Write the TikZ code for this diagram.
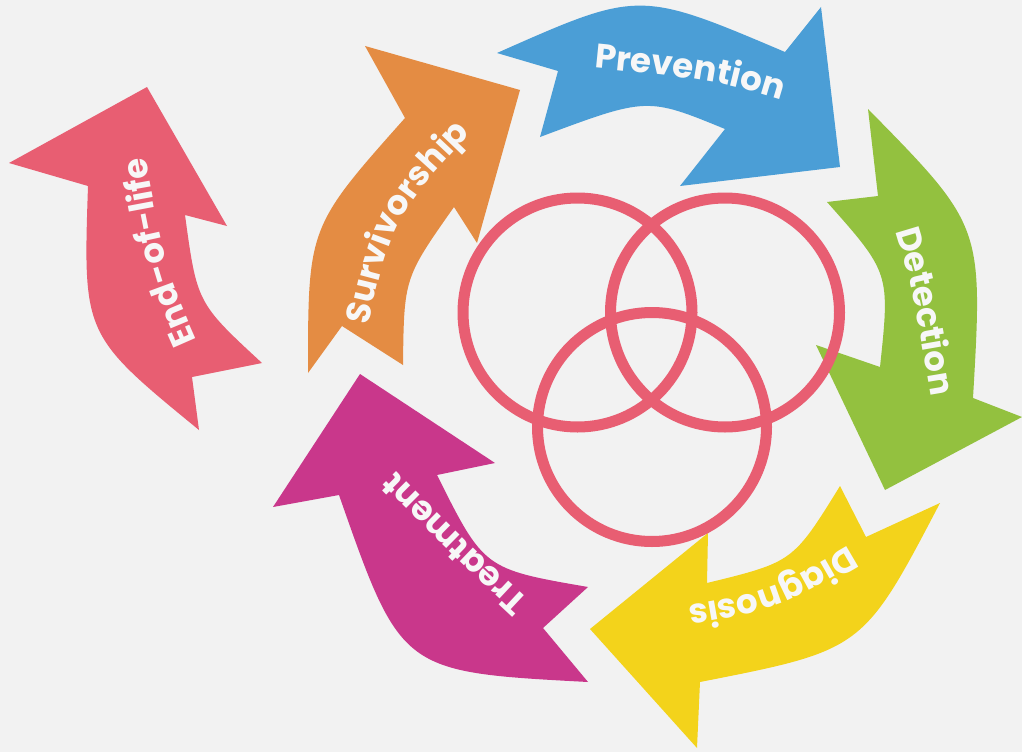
\documentclass[tikz,border=0pt]{standalone}
\usepackage{fontspec}
\newfontfamily\poppins{Poppins}
\usetikzlibrary{decorations.text}
\definecolor{prevblue}{HTML}{4B9ED6}
\definecolor{detgreen}{HTML}{93C13F}
\definecolor{diagyellow}{HTML}{F3D31B}
\definecolor{treatpink}{HTML}{C9378B}
\definecolor{survorange}{HTML}{E48C43}
\definecolor{eolred}{HTML}{E85E72}
\definecolor{paper}{HTML}{F2F2F2}
\definecolor{chalk}{HTML}{F7F7F7}
\newcommand\lblfont{\poppins\bfseries\fontsize{34}{34}\selectfont}
\tikzset{band/.style={fill=#1}, ring/.style={draw=eolred, line width=11pt}, bandtext/.style={decorate, decoration={text along path, text align=center, text color=chalk, text={|\lblfont|#1}}}}

\begin{document}
\begin{tikzpicture}[x=1pt, y=-1pt]
    \useasboundingbox (0,0) rectangle (1022,752);
    \fill[paper] (0,0) rectangle (1022,752);
    \fill[band=prevblue] (497,53) .. controls (639,-10) .. (785,52) -- (821,7) -- (840,167) -- (680,186) -- (725,129) .. controls (647,97) .. (540,137) -- (558,71) -- cycle;
    \fill[band=detgreen] (868,109) .. controls (983,226) .. (973,398) -- (1022,417) -- (885,490) -- (816,345) -- (880,367) .. controls (890,273) .. (827,202) -- (878,196) -- cycle;
    \fill[band=diagyellow] (940,503) .. controls (863,650) .. (700,682) -- (697,748) -- (590,629) -- (708,533) -- (707,583) .. controls (793,562) .. (840,486) -- (866,537) -- cycle;
    \fill[band=treatpink] (360,374) -- (495,463) -- (437,475) .. controls (484,569) .. (588,587) -- (543,628) -- (588,682) .. controls (401,672) .. (339,495) -- (273,507) -- cycle;
    \fill[band=survorange] (520,90) -- (477,243) -- (454,207) .. controls (404,278) .. (403,365) -- (342,326) -- (308,373) .. controls (308,227) .. (405,118) -- (365,46) -- cycle;
    \fill[band=eolred] (147,87) -- (227,226) -- (185,215) .. controls (197,303) .. (262,363) -- (192,377) -- (199,430) .. controls (83,335) .. (88,186) -- (9,163) -- cycle;
    \draw[ring] (577.5,312.5) circle[radius=114.5pt];
    \draw[ring] (725,312.5) circle[radius=114.5pt];
    \draw[ring] (652,427) circle[radius=114.5pt];
    \path[bandtext=Prevention] (575,66) .. controls (715,80) .. (800,106);
    \path[bandtext=Detection] (885,197) .. controls (912,282) .. (937,432);
    \path[bandtext=Diagnosis] (855,542) .. controls (770,592) .. (680,607);
    \path[bandtext=Treatment] (545,615) .. controls (470,545) .. (380,455);
    \path[bandtext=Survivorship] (362,355) .. controls (392,215) .. (492,112);
    \path[bandtext=End-of-life] (210,370) .. controls (165,270) .. (140,125);
\end{tikzpicture}
\end{document}
